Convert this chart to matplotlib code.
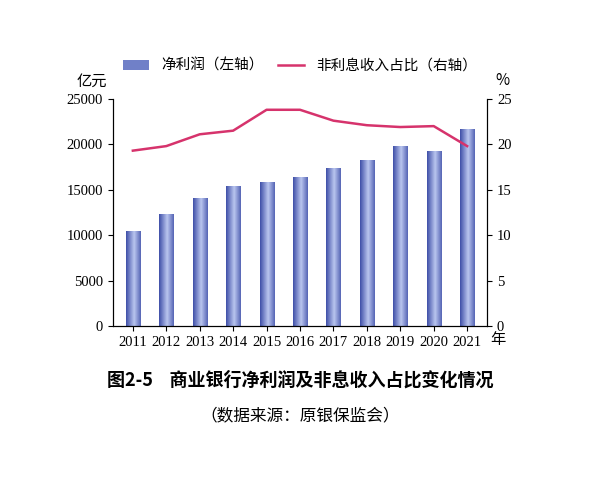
import matplotlib
matplotlib.use("Agg")
import matplotlib.pyplot as plt
import numpy as np
from matplotlib.colors import LinearSegmentedColormap

plt.rcParams['font.family'] = ['Noto Sans CJK SC', 'DejaVu Sans']

years = ['2011','2012','2013','2014','2015','2016','2017','2018','2019','2020','2021']
profit = [10400, 12300, 14100, 15400, 15900, 16400, 17400, 18300, 19800, 19300, 21700]
nonint = [19.3, 19.8, 21.1, 21.5, 23.8, 23.8, 22.6, 22.1, 21.9, 22.0, 19.8]

fig = plt.figure(figsize=(6, 4.8), dpi=100)
ax = fig.add_axes([0.188, 0.321, 0.624, 0.473])
x = np.arange(len(years))
bars = ax.bar(x, profit, width=0.42, color='#7080c8', label='净利润（左轴）', zorder=2)
grad = np.abs(np.linspace(0, 1, 64).reshape(1, -1) - 0.55)
cm = LinearSegmentedColormap.from_list('b', ['#b8c4ee', '#3f4fa8'])
for b in bars:
    xx = b.get_x()
    im = ax.imshow(grad, cmap=cm, aspect='auto', extent=[xx, xx + b.get_width(), 0, b.get_height()], zorder=2)
    im.set_clip_path(b)
ax.set_xlim(-0.6, len(years) - 0.4)
ax.set_ylim(0, 25000)
ax.set_yticks(range(0, 25001, 5000))
ax.set_xticks(x)
ax.set_xticklabels(years)
ax.tick_params(direction='out', labelsize=10.5)
ax.spines['top'].set_visible(False)

ax2 = ax.twinx()
ln, = ax2.plot(x, nonint, color='#d6336c', lw=1.8, label='非利息收入占比（右轴）')
ax2.set_ylim(0, 25)
ax2.set_yticks(range(0, 26, 5))
ax2.spines['top'].set_visible(False)
ax2.tick_params(labelsize=10.5)
for lab in ax.get_yticklabels() + ax2.get_yticklabels() + ax.get_xticklabels():
    lab.set_family('Liberation Serif')

fig.text(0.128, 0.822, '亿元', fontsize=11)
fig.text(0.825, 0.822, '%', fontsize=11)
fig.text(0.817, 0.283, '年', fontsize=11)
fig.legend([bars, ln], ['净利润（左轴）', '非利息收入占比（右轴）'], loc='upper center',
           bbox_to_anchor=(0.5, 0.905), ncol=2, frameon=False, fontsize=10.5,
           handlelength=1.8, columnspacing=1.0)
fig.text(0.5, 0.197, '图2-5    商业银行净利润及非息收入占比变化情况', ha='center', fontsize=13, fontweight='bold')
fig.text(0.5, 0.125, '（数据来源：原银保监会）', ha='center', fontsize=12)
fig.savefig('out.png')
